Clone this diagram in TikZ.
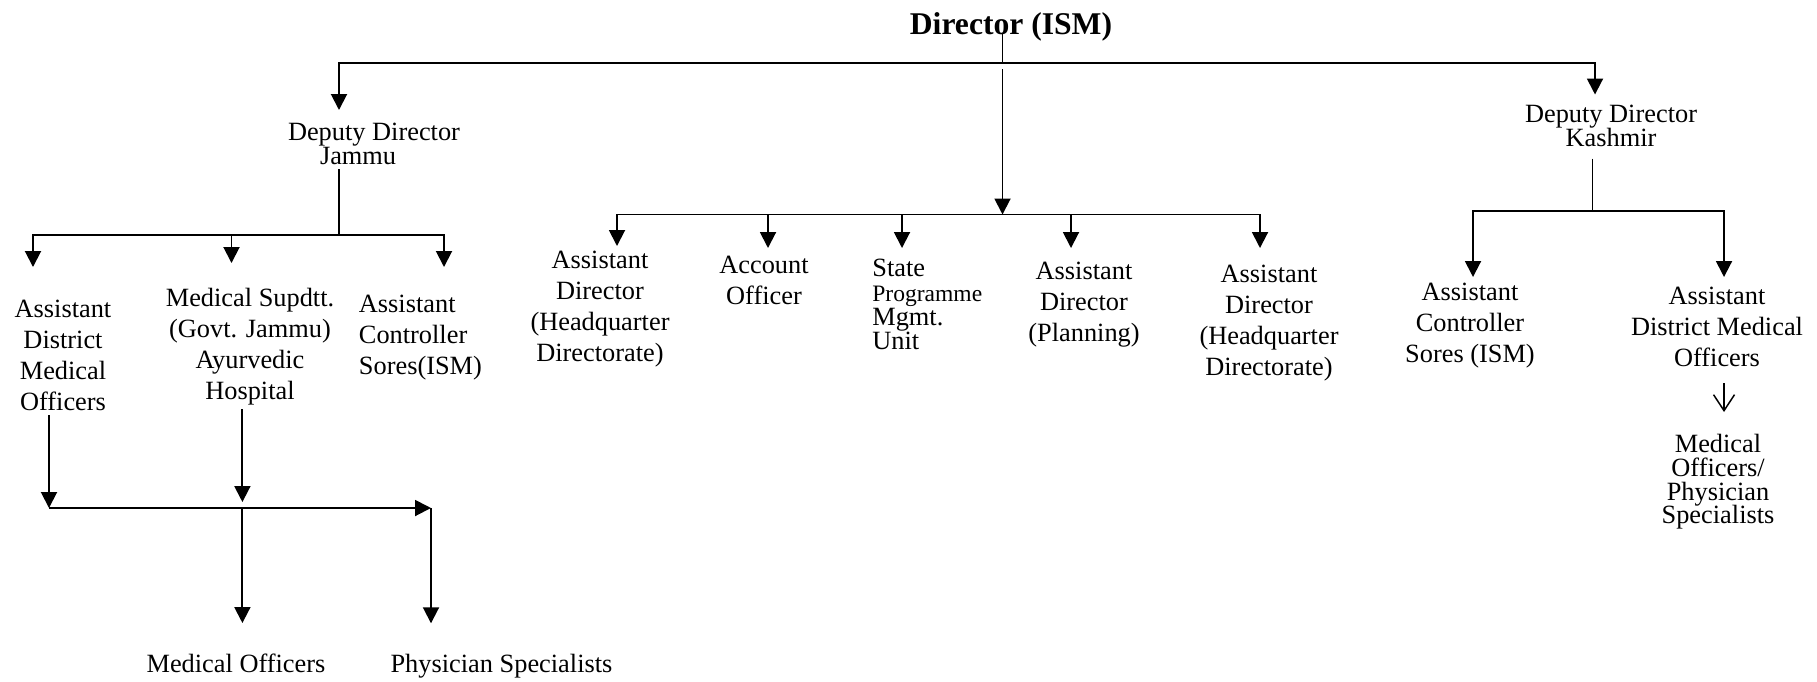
\documentclass[tikz,border=0pt]{standalone}
\usepackage{fontspec}
\setmainfont{Liberation Serif}
\usepackage{tikz}
\usetikzlibrary{arrows.meta,positioning,calc}
\setlength{\lineskiplimit}{-20pt}
\tikzset{
  headText/.style={
    font=\fontsize{18}{20}\selectfont\bfseries,
    inner sep=0pt,
    anchor=north
  },
  roleText/.style={
    font=\fontsize{15}{17.6}\selectfont,
    inner sep=0pt,
    align=center,
    anchor=north
  },
  tightText/.style={
    roleText,
    font=\fontsize{15}{13.5}\selectfont
  },
  arrowLine/.style={
    -{Triangle[length=3.2mm,width=3.2mm]},
    line width=1.1pt
  },
  barLine/.style={
    {Triangle[length=3.2mm,width=3.2mm]}-{Triangle[length=3.2mm,width=3.2mm]},
    line width=1.1pt
  },
  thinLine/.style={
    line width=0.6pt
  },
  openArrow/.style={
    -{Straight Barb[length=3.2mm,width=4.2mm]},
    line width=0.85pt
  }
}
\begin{document}
\begin{tikzpicture}[x=0.02cm,y=-0.02cm]
    \useasboundingbox (0,0) rectangle (1817,681);

    \node[headText] (dir) at (1011,12) {Director (ISM)};

    \node[tightText, align=left] (ddj) at (374,123) {Deputy Director\\\hspace*{0.64cm}Jammu};
    \node[tightText] (ddk) at (1611,105) {Deputy Director\\Kashmir};

    \node[roleText] (admoj) at (63,300) {Assistant\\District\\Medical\\Officers};
    \node[roleText] (medsup) at (250,288) {Medical Supdtt.\\(Govt. Jammu)\\Ayurvedic\\Hospital};
    \node[roleText, align=left, anchor=north west] (acsj) at (358.6,295) {Assistant\\Controller\\Sores(ISM)};

    \node[roleText] (adhq1) at (600,251) {Assistant\\Director\\(Headquarter\\Directorate)};
    \node[roleText] (acct) at (764,256) {Account\\Officer};
    \node[roleText, align=left, anchor=north west, font=\fontsize{15}{13.8}\selectfont] (spmu) at (872,259) {State\\{\fontsize{13.4}{13.8}\selectfont Programme}\\Mgmt.\\Unit};
    \node[roleText] (adplan) at (1084,262) {Assistant\\Director\\(Planning)};
    \node[roleText] (adhq2) at (1269,264.5) {Assistant\\Director\\(Headquarter\\Directorate)};

    \node[roleText] (acsk) at (1470,283) {Assistant\\Controller\\Sores (ISM)};
    \node[roleText] (admok) at (1717,287) {Assistant\\District Medical\\Officers};
    \node[tightText] (mopsk) at (1718,434) {Medical\\Officers/\\Physician\\Specialists};

    \node[roleText] (moj) at (236,654) {Medical Officers};
    \node[roleText, base right=1.29cm of moj] (psj) {Physician Specialists};

    \coordinate (tbL) at (339,63);
    \coordinate (tbM) at (1002.5,63);
    \coordinate (tbR) at (1595,63);
    \coordinate (mbL) at (617,214.5);
    \coordinate (mbC) at (1002.5,214.5);
    \coordinate (mb2) at (768,214.5);
    \coordinate (mb3) at (902,214.5);
    \coordinate (mb4) at (1071,214.5);
    \coordinate (mbR) at (1260,214.5);
    \coordinate (jbL) at (33,234.7);
    \coordinate (jbM) at (231.5,234.7);
    \coordinate (jbC) at (339,234.7);
    \coordinate (jbR) at (444,234.7);
    \coordinate (kbL) at (1473,211);
    \coordinate (kbC) at (1592,211);
    \coordinate (kbR) at (1724,211);
    \coordinate (lbL) at (49,508);
    \coordinate (lbM) at (242.4,508);
    \coordinate (lbR) at (431,508);

    \draw[thinLine] (dir.base -| tbM) -- (tbM);
    \draw[barLine, shorten <=0.26cm, shorten >=0.21cm] (tbL |- ddj.north) -- (tbL) -- (tbR) -- (tbR |- ddk.north);
    \draw[arrowLine, shorten <=0.12cm] (tbM) -- (mbC);

    \draw[barLine, shorten <=0.1cm, shorten >=0.33cm] (mbL |- adhq1.north) -- (mbL) -- (mbR) -- (mbR |- adhq2.north);
    \draw[arrowLine, shorten >=0.16cm] (mb2) -- (mb2 |- acct.north);
    \draw[arrowLine, shorten >=0.22cm] (mb3) -- (mb3 |- spmu.north);
    \draw[arrowLine, shorten >=0.28cm] (mb4) -- (mb4 |- adplan.north);

    \draw[thinLine, shorten <=0.08cm] (jbC |- ddj.south) -- (jbC);
    \draw[barLine, shorten <=0.66cm, shorten >=0.56cm] (jbL |- admoj.north) -- (jbL) -- (jbR) -- (jbR |- acsj.north);
    \draw[arrowLine, shorten >=0.5cm] (jbM) -- (jbM |- medsup.north);

    \draw[arrowLine, shorten <=0.08cm] (lbL |- admoj.south) -- (lbL);
    \draw[arrowLine, shorten <=0.08cm, shorten >=0.12cm] (lbM |- medsup.south) -- (lbM);
    \draw[arrowLine] (lbL) -- (lbR);
    \draw[arrowLine, shorten >=0.62cm] (lbM) -- (lbM |- moj.north);
    \draw[arrowLine, shorten >=0.62cm] (lbR) -- (lbR |- psj.north);

    \draw[thinLine, shorten <=0.23cm] (kbC |- ddk.south) -- (kbC);
    \draw[barLine, shorten <=0.12cm, shorten >=0.2cm] (kbL |- acsk.north) -- (kbL) -- (kbR) -- (kbR |- admok.north);
    \draw[openArrow, shorten <=0.32cm, shorten >=0.44cm] (kbR |- admok.south) -- (kbR |- mopsk.north);
\end{tikzpicture}
\end{document}
